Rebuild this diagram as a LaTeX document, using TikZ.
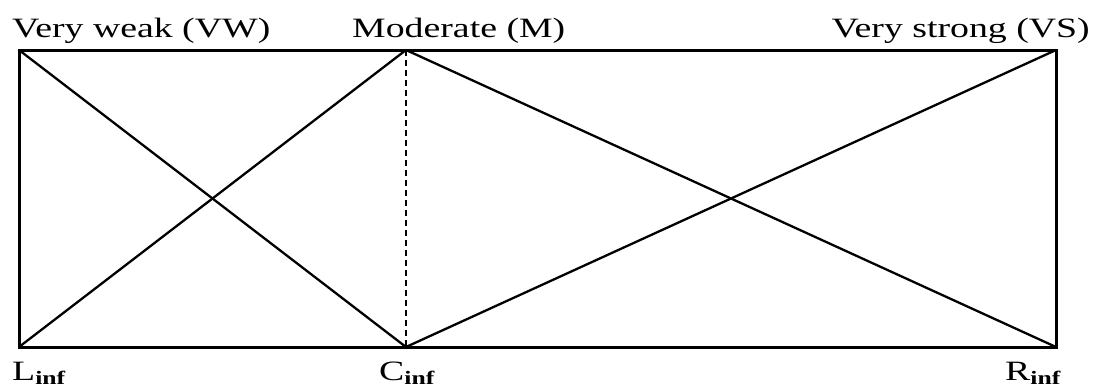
\documentclass[tikz,border=0pt]{standalone}
\usepackage{fontspec}
\usepackage{graphicx}
\setmainfont{Liberation Serif}
\tikzset{
  frame/.style={line width=3pt},
  diag/.style={line width=2.3pt},
  mid/.style={line width=2.2pt, dash pattern=on 6pt off 4pt},
  lbl/.style={inner sep=0pt, font=\fontsize{28}{32}\selectfont},
}
\newcommand{\wide}[1]{\scalebox{1.35}[1]{#1}}
\newcommand{\sub}[1]{\raisebox{-4pt}{\fontsize{19}{20}\selectfont\bfseries #1}}
\begin{document}
\begin{tikzpicture}[x=1pt,y=-1pt]
\useasboundingbox (0,0) rectangle (1096,389);
\coordinate (TL) at (19,50);
\coordinate (BL) at (19,347);
\coordinate (TC) at (406,50);
\coordinate (BC) at (406,347);
\coordinate (TR) at (1056,50);
\coordinate (BR) at (1056,347);
\draw[frame] (TL) -- (TR) -- (BR) -- (BL) -- cycle;
\draw[mid] (TC) -- (BC);
\draw[diag] (TL) -- (BC);
\draw[diag] (BL) -- (TC);
\draw[diag] (TC) -- (BR);
\draw[diag] (BC) -- (TR);
\node[lbl, anchor=base west] (vw) at (12,37) {\wide{Very weak (VW)}};
\node[lbl, anchor=base west] (m) at (352,37) {\wide{Moderate (M)}};
\node[lbl, anchor=base east] (vs) at (1090,37) {\wide{Very strong (VS)}};
\node[lbl, anchor=base west] (l) at (12,380) {\wide{L\sub{inf}}};
\node[lbl, anchor=base west] (c) at (379,380) {\wide{C\sub{inf}}};
\node[lbl, anchor=base west] (r) at (1005,380) {\wide{R\sub{inf}}};
\end{tikzpicture}
\end{document}
